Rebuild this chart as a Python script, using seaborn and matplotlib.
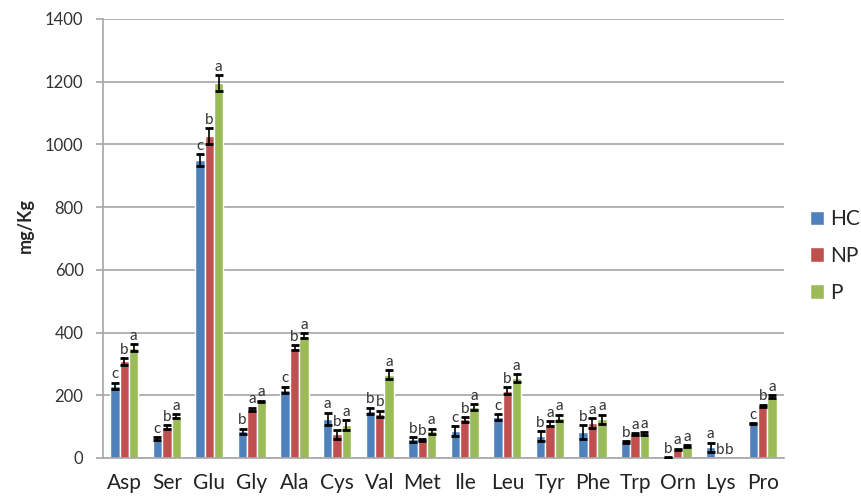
import numpy as np
import pandas as pd
import matplotlib
matplotlib.use("Agg")
import matplotlib.pyplot as plt
import seaborn as sns

# Amino acids and groups
amino_acids = ['Asp', 'Ser', 'Glu', 'Gly', 'Ala', 'Cys', 'Val', 'Met',
               'Ile', 'Leu', 'Tyr', 'Phe', 'Trp', 'Orn', 'Lys', 'Pro']
groups = ['HC', 'NP', 'P']

# mean values (mg/Kg)
hc_vals = [230, 62, 950, 86, 218, 125, 151, 59, 86, 130, 70, 84, 51, 2, 34, 109]
np_vals = [308, 98, 1027, 156, 352, 75, 141, 56, 123, 215, 109, 112, 77, 27, 0, 167]
p_vals = [352, 133, 1196, 181, 390, 105, 266, 86, 162, 255, 128, 123, 77, 37, 0, 196]

# error bar half-widths
hc_err = [10, 5, 20, 8, 10, 20, 10, 8, 15, 10, 15, 22, 2, 1, 15, 2]
np_err = [10, 6, 25, 5, 8, 15, 10, 3, 8, 10, 8, 15, 3, 3, 0, 3]
p_err = [10, 7, 25, 2, 8, 15, 14, 8, 10, 12, 10, 15, 5, 3, 0, 4]

# significance letters
hc_letters = ['c', 'c', 'c', 'b', 'c', 'a', 'b', 'b', 'c', 'c', 'b', 'b', 'b', 'b', 'a', 'c']
np_letters = ['b', 'b', 'b', 'a', 'b', 'b', 'b', 'b', 'b', 'b', 'a', 'a', 'a', 'a', 'b', 'b']
p_letters = ['a', 'a', 'a', 'a', 'a', 'a', 'a', 'a', 'a', 'a', 'a', 'a', 'a', 'a', 'b', 'a']

colors = ['#4F81BD', '#C0504D', '#9BBB59']

df = pd.DataFrame({
    'aa': amino_acids * 3,
    'group': [g for g in groups for _ in amino_acids],
    'value': hc_vals + np_vals + p_vals,
})
errs = hc_err + np_err + p_err
letters = hc_letters + np_letters + p_letters

sns.set_style('white')
plt.rcParams['font.family'] = ['Lato', 'DejaVu Sans']

fig = plt.figure(figsize=(8.61, 5.03), dpi=100)
# plot area: x 103..784 px, y 19..458 px
ax = fig.add_axes([103 / 861, 45 / 503, 681 / 861, 439 / 503])

sns.barplot(data=df, x='aa', y='value', hue='group', palette=colors,
            width=0.66, errorbar=None, saturation=1, ax=ax, zorder=2)

# error bars and letters on top of each bar
bars = ax.patches[:len(df)]
for bar, e, lab in zip(bars, errs, letters):
    cx = bar.get_x() + bar.get_width() / 2
    h = bar.get_height()
    if e > 0:
        ax.errorbar(cx, h, yerr=e, fmt='none', ecolor='black', elinewidth=1.2,
                    capsize=3, capthick=2, zorder=3)
    ax.text(cx, h + e + 4, lab, ha='center', va='bottom', fontsize=11,
            color='#333333', zorder=4)

ax.set_ylim(0, 1400)
ax.set_xlim(-0.5, len(amino_acids) - 0.5)
ax.set_yticks(range(0, 1401, 200))
ax.yaxis.grid(True, color='#a6a6a6', linewidth=1.2, zorder=0)
ax.set_axisbelow(True)

for s in ['top', 'right']:
    ax.spines[s].set_visible(False)
for s in ['left', 'bottom']:
    ax.spines[s].set_color('#a6a6a6')
    ax.spines[s].set_linewidth(1.2)

# ticks at category boundaries, labels in the middle
ax.set_xticks(np.arange(len(amino_acids)))
ax.set_xticklabels(amino_acids, fontsize=15, color='#222222')
ax.set_xticks(np.arange(-0.5, len(amino_acids)), minor=True)
ax.tick_params(axis='x', which='major', length=0, pad=11)
ax.tick_params(axis='x', which='minor', length=5, color='#a6a6a6', width=1.2)
ax.tick_params(axis='y', length=5, color='#a6a6a6', width=1.2, labelsize=12,
               labelcolor='#333333', left=True, pad=9)

ax.set_xlabel('')
ax.set_ylabel('mg/Kg', fontsize=13, fontweight='bold')
ax.yaxis.set_label_coords(-0.101, 0.53)

ax.legend(title=None, loc='center left', bbox_to_anchor=(1.038, 0.46), frameon=False,
          fontsize=15, handlelength=0.7, handleheight=0.7, handletextpad=0.25,
          labelspacing=0.8, borderaxespad=0, borderpad=0)

fig.savefig('out.png', dpi=100)
